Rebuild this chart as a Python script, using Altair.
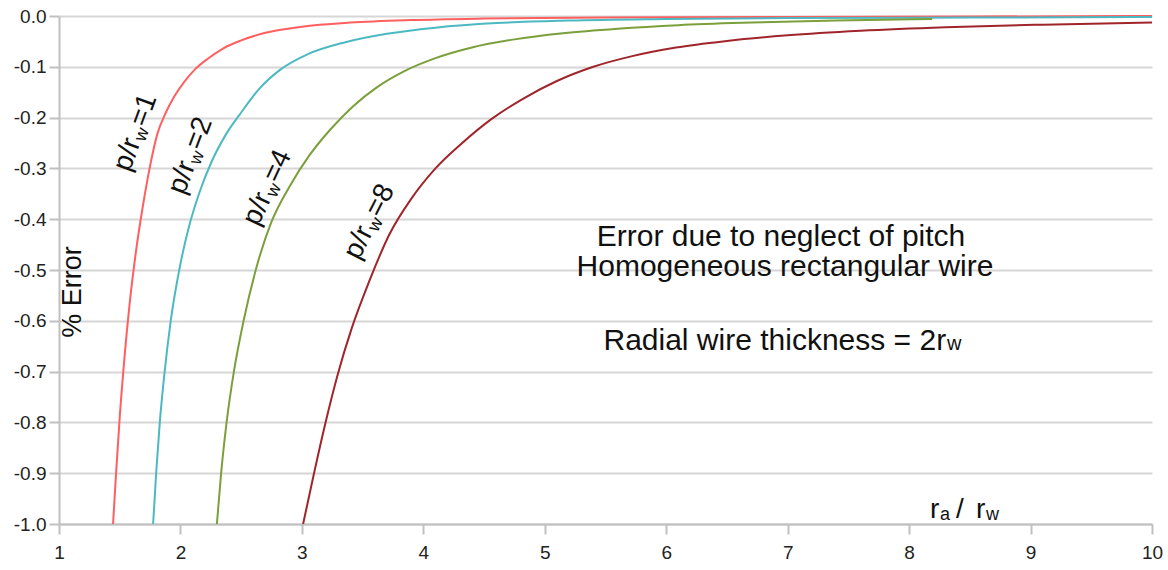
import altair as alt
import pandas as pd

# ---------------- data ----------------
series_names = ["p1", "p2", "p4", "p8"]
series_colors = ["#ff5f5f", "#4cb9c2", "#7b9f3a", "#a0252b"]
label_values = ["1", "2", "4", "8"]

x_p1 = [1.445, 1.47, 1.50, 1.54, 1.58, 1.63, 1.69, 1.75, 1.81, 1.88, 1.95, 2.03, 2.12,
        2.22, 2.35, 2.50, 2.70, 3.0, 3.4, 3.9, 4.5, 5.5, 7.0, 8.5, 10.0]
y_p1 = [-1.0, -0.9, -0.79, -0.67, -0.57, -0.47, -0.375, -0.295, -0.232, -0.19, -0.158, -0.13,
        -0.105, -0.085, -0.064, -0.048, -0.033, -0.021, -0.013, -0.008, -0.005, -0.003,
        -0.002, -0.001, 0.0]

x_p2 = [1.775, 1.80, 1.83, 1.87, 1.92, 1.99, 2.07, 2.16, 2.26, 2.37, 2.50, 2.65, 2.82,
        3.05, 3.35, 3.7, 4.1, 4.6, 5.2, 6.0, 7.0, 8.5, 10.0]
y_p2 = [-1.0, -0.9, -0.8, -0.7, -0.6, -0.5, -0.415, -0.345, -0.285, -0.235, -0.19, -0.143,
        -0.106, -0.075, -0.052, -0.035, -0.023, -0.014, -0.009, -0.006, -0.004, -0.003, -0.002]

x_p4 = [2.30, 2.335, 2.38, 2.44, 2.52, 2.62, 2.75, 2.90, 3.06, 3.24, 3.42, 3.62, 3.84,
        4.10, 4.40, 4.75, 5.15, 5.6, 6.1, 6.7, 7.4, 8.19]
y_p4 = [-1.0, -0.9, -0.8, -0.7, -0.6, -0.5, -0.405, -0.335, -0.275, -0.222, -0.178, -0.14,
        -0.109, -0.083, -0.062, -0.046, -0.034, -0.025, -0.018, -0.013, -0.009, -0.006]

x_p8 = [3.01, 3.10, 3.19, 3.29, 3.41, 3.55, 3.72, 3.90, 4.10, 4.32, 4.56, 4.82, 5.10,
        5.40, 5.72, 6.08, 6.50, 7.00, 7.60, 8.30, 9.10, 10.0]
y_p8 = [-1.0, -0.9, -0.805, -0.71, -0.615, -0.525, -0.43, -0.36, -0.30, -0.25, -0.203,
        -0.163, -0.128, -0.100, -0.079, -0.062, -0.049, -0.038, -0.029, -0.022, -0.017, -0.013]

x_ticks = [1, 2, 3, 4, 5, 6, 7, 8, 9, 10]
y_ticks = [-1.0, -0.9, -0.8, -0.7, -0.6, -0.5, -0.4, -0.3, -0.2, -0.1, 0.0]

frames = []
for name, xs, ys in zip(series_names, [x_p1, x_p2, x_p4, x_p8], [y_p1, y_p2, y_p4, y_p8]):
    frames.append(pd.DataFrame({"ratio": xs, "err": ys, "series": name}))
df = pd.concat(frames, ignore_index=True)

# ---------------- layout ----------------
W, H = 1093, 508
PADL, PADT, PADR, PADB = 59, 16, 16, 46
FONT = "Liberation Sans"
TXT = "#111111"
one = pd.DataFrame({"k": [0]})

lines = alt.Chart(df).mark_line(strokeWidth=2, interpolate="monotone").encode(
    x=alt.X("ratio:Q", scale=alt.Scale(domain=[1, 10], nice=False, zero=False),
            axis=alt.Axis(values=x_ticks, format="d", title="", grid=False,
                          labelFlush=False, labelPadding=9)),
    y=alt.Y("err:Q", scale=alt.Scale(domain=[-1, 0], nice=False, zero=False),
            axis=alt.Axis(values=y_ticks, title="", grid=True, gridColor="#d6d6d6",
                          gridWidth=2, labelFlush=False, labelPadding=3,
                          labelExpr="datum.value < -0.0001 ? '-' + format(-datum.value, '.1f') : '0.0'")),
    color=alt.Color("series:N", scale=alt.Scale(domain=series_names, range=series_colors),
                    legend=None),
)


def txt(text, px, py, size, angle=0, align="left", baseline="alphabetic", dx=0, dy=0):
    props = dict(text=text, font=FONT, fontSize=size, align=align,
                 baseline=baseline, color=TXT)
    if angle:
        props["angle"] = angle
    if dx:
        props["dx"] = dx
    if dy:
        props["dy"] = dy
    return alt.Chart(one).mark_text(**props).encode(
        x=alt.value(px - PADL), y=alt.value(py - PADT))


layers = [lines]

# curve labels p/r_w=N, rotated
F, S = 28, 18
label_centers = [(134, 132, 290), (189, 155, 291), (266, 187, 295), (368, 221, 297)]
w1 = 1.167 * F
w2 = 0.722 * S
w3 = 1.14 * F
Wtot = w1 + w2 + w3 + 2
base_dy = 0.35 * F
for (cx, cy, ang), val in zip(label_centers, label_values):
    layers.append(txt("p/r", cx, cy, F, angle=ang, dx=-Wtot / 2, dy=base_dy))
    layers.append(txt("w", cx, cy, S, angle=ang, dx=-Wtot / 2 + w1 + 1, dy=base_dy + 4))
    layers.append(txt("=" + val, cx, cy, F, angle=ang, dx=-Wtot / 2 + w1 + w2 + 2, dy=base_dy))

# y title
layers.append(txt("% Error", 73, 292, 27, angle=270, align="center", baseline="middle"))

# x title r_a / r_w
layers.append(txt("r", 930, 518, 28))
layers.append(txt("a", 940, 520, 18))
layers.append(txt("/", 956, 518, 28))
layers.append(txt("r", 976, 518, 28))
layers.append(txt("w", 986, 520, 18))

# annotation block
AF = 30
layers.append(txt("Error due to neglect of pitch", 781, 246, AF, align="center"))
layers.append(txt("Homogeneous rectangular wire", 785, 276, AF, align="center"))
main3 = 11.42 * AF
sub3 = 0.722 * 20
start3 = 782 - (main3 + sub3) / 2
layers.append(txt("Radial wire thickness = 2r", start3, 350, AF))
layers.append(txt("w", start3 + main3 + 1, 350, 20))

chart = alt.layer(*layers).properties(
    width=W, height=H,
    autosize=alt.AutoSizeParams(type="none"),
    padding={"left": PADL, "top": PADT, "right": PADR, "bottom": PADB},
    background="white",
).configure_view(stroke="transparent").configure_axis(
    domainColor="#c0c0c0", domainWidth=2, tickColor="#c0c0c0", tickWidth=2, tickSize=10,
    labelFont=FONT, labelFontSize=19, labelColor="#222222",
)

chart.save("out.html", embed_options={"renderer": "svg", "actions": False})
